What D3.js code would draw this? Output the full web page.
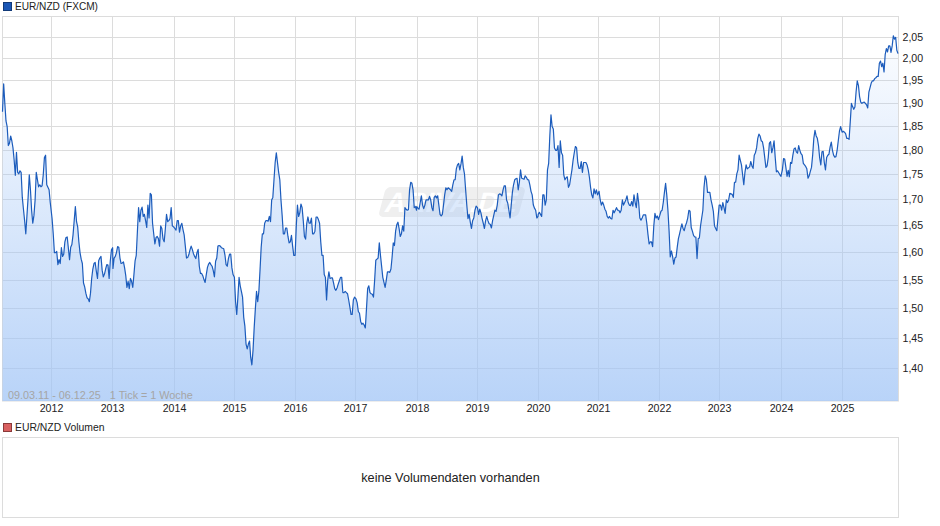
<!DOCTYPE html>
<html>
<head>
<meta charset="utf-8">
<script src="https://cdn.jsdelivr.net/npm/d3@7"></script>
<style>
  html, body { margin: 0; padding: 0; background: #fff; }
  svg { display: block; font-family: "Liberation Sans", Arial, sans-serif; }
  .axis text { fill: #222; font-size: 10.6px; }
  .axis line { stroke: #dcdcdc; }
</style>
</head>
<body>
<div id="graph"></div>
<script>
// weekly closes, one list per calendar year
var rates2011 = [1.882,1.943,1.90,1.862,1.85,1.81,1.815,1.83,1.82,1.805,1.78,1.749,1.796,1.755,1.752,1.758,1.755,1.705,1.682,1.66,1.635,1.67,1.705,1.75,1.72,1.68,1.655,1.67,1.70,1.755,1.74,1.726,1.73,1.726,1.728,1.75,1.785,1.79,1.73,1.725,1.72,1.695];
var rates2012 = [1.664,1.635,1.60,1.60,1.602,1.578,1.587,1.58,1.609,1.593,1.597,1.62,1.628,1.629,1.608,1.587,1.61,1.615,1.633,1.66,1.687,1.658,1.648,1.62,1.60,1.588,1.58,1.545,1.538,1.527,1.519,1.517,1.512,1.527,1.553,1.57,1.58,1.582,1.566,1.553,1.585,1.59,1.593,1.568,1.556,1.561,1.57,1.578,1.577,1.553,1.585,1.605,1.609];
var rates2013 = [1.571,1.59,1.593,1.60,1.611,1.61,1.59,1.58,1.581,1.583,1.572,1.558,1.537,1.548,1.535,1.553,1.548,1.537,1.56,1.585,1.595,1.64,1.685,1.658,1.68,1.686,1.668,1.672,1.66,1.647,1.69,1.665,1.713,1.71,1.655,1.635,1.616,1.628,1.63,1.626,1.612,1.65,1.645,1.625,1.62,1.645,1.672,1.658,1.66,1.664,1.685,1.65];
var rates2014 = [1.648,1.645,1.642,1.66,1.66,1.638,1.65,1.655,1.643,1.633,1.612,1.59,1.591,1.596,1.605,1.612,1.606,1.598,1.593,1.589,1.60,1.606,1.575,1.562,1.562,1.558,1.551,1.546,1.56,1.573,1.579,1.582,1.578,1.575,1.567,1.556,1.584,1.59,1.612,1.613,1.612,1.609,1.608,1.607,1.596,1.578,1.575,1.589,1.597,1.597,1.572,1.56];
var rates2015 = [1.555,1.512,1.49,1.52,1.555,1.54,1.53,1.52,1.485,1.47,1.44,1.432,1.44,1.445,1.418,1.406,1.43,1.468,1.50,1.53,1.512,1.53,1.568,1.61,1.635,1.635,1.655,1.66,1.66,1.659,1.668,1.658,1.70,1.705,1.74,1.775,1.795,1.775,1.755,1.74,1.70,1.67,1.635,1.635,1.646,1.646,1.63,1.618,1.62,1.632,1.612,1.595];
var rates2016 = [1.595,1.65,1.69,1.668,1.675,1.692,1.685,1.66,1.63,1.625,1.655,1.667,1.655,1.655,1.665,1.635,1.635,1.64,1.667,1.667,1.662,1.655,1.62,1.595,1.595,1.56,1.555,1.515,1.55,1.565,1.553,1.554,1.554,1.545,1.535,1.532,1.536,1.543,1.549,1.555,1.555,1.528,1.528,1.53,1.528,1.526,1.515,1.503,1.49,1.49,1.515,1.52];
var rates2017 = [1.517,1.51,1.495,1.492,1.478,1.473,1.475,1.472,1.467,1.50,1.535,1.54,1.528,1.526,1.525,1.52,1.55,1.586,1.588,1.59,1.618,1.595,1.575,1.555,1.546,1.537,1.55,1.565,1.565,1.564,1.57,1.592,1.618,1.613,1.64,1.652,1.657,1.645,1.63,1.635,1.65,1.64,1.685,1.682,1.68,1.681,1.72,1.735,1.733,1.72,1.685,1.687,1.68];
var rates2018 = [1.687,1.684,1.682,1.695,1.708,1.69,1.683,1.69,1.70,1.70,1.70,1.707,1.70,1.685,1.679,1.705,1.708,1.704,1.708,1.69,1.672,1.669,1.672,1.69,1.71,1.724,1.72,1.724,1.722,1.72,1.717,1.73,1.74,1.74,1.762,1.77,1.773,1.76,1.772,1.788,1.765,1.752,1.72,1.69,1.664,1.672,1.657,1.645,1.66,1.665,1.68,1.688];
var rates2019 = [1.685,1.672,1.682,1.675,1.664,1.655,1.645,1.66,1.668,1.66,1.654,1.653,1.646,1.66,1.67,1.68,1.678,1.69,1.71,1.712,1.711,1.708,1.72,1.728,1.728,1.70,1.694,1.68,1.665,1.69,1.715,1.73,1.74,1.742,1.743,1.72,1.735,1.76,1.743,1.742,1.741,1.748,1.745,1.74,1.74,1.73,1.717,1.71,1.69,1.684,1.68,1.665,1.668];
var rates2020 = [1.672,1.676,1.672,1.668,1.71,1.71,1.69,1.70,1.76,1.773,1.83,1.875,1.85,1.845,1.805,1.80,1.80,1.81,1.765,1.82,1.795,1.79,1.75,1.74,1.744,1.746,1.725,1.73,1.745,1.76,1.78,1.795,1.808,1.805,1.775,1.763,1.763,1.777,1.755,1.775,1.775,1.775,1.77,1.76,1.745,1.725,1.71,1.704,1.722,1.712,1.72,1.71];
var rates2021 = [1.717,1.70,1.69,1.696,1.69,1.682,1.678,1.668,1.665,1.668,1.664,1.663,1.68,1.675,1.68,1.685,1.68,1.68,1.675,1.68,1.70,1.69,1.695,1.70,1.708,1.695,1.69,1.689,1.697,1.688,1.71,1.695,1.685,1.713,1.695,1.665,1.661,1.665,1.671,1.671,1.671,1.655,1.634,1.616,1.62,1.62,1.611,1.65,1.674,1.665,1.669,1.662];
var rates2022 = [1.67,1.678,1.68,1.695,1.715,1.733,1.71,1.68,1.64,1.592,1.603,1.593,1.579,1.59,1.592,1.61,1.626,1.635,1.645,1.654,1.645,1.641,1.65,1.656,1.665,1.68,1.678,1.647,1.64,1.632,1.629,1.629,1.589,1.626,1.627,1.65,1.665,1.68,1.725,1.748,1.74,1.715,1.715,1.715,1.70,1.69,1.678,1.65,1.645,1.641,1.665,1.69];
var rates2023 = [1.69,1.68,1.695,1.685,1.674,1.70,1.695,1.70,1.713,1.712,1.711,1.705,1.735,1.735,1.752,1.76,1.79,1.78,1.77,1.75,1.73,1.755,1.77,1.762,1.764,1.766,1.777,1.768,1.763,1.79,1.795,1.805,1.825,1.834,1.83,1.82,1.818,1.805,1.785,1.765,1.768,1.785,1.815,1.818,1.795,1.805,1.82,1.785,1.756,1.758,1.754,1.75,1.747];
var rates2024 = [1.75,1.76,1.783,1.782,1.765,1.747,1.759,1.746,1.775,1.773,1.79,1.803,1.805,1.797,1.794,1.81,1.80,1.793,1.79,1.773,1.77,1.767,1.762,1.743,1.748,1.757,1.765,1.79,1.825,1.842,1.83,1.825,1.81,1.785,1.77,1.797,1.798,1.775,1.76,1.785,1.79,1.792,1.807,1.817,1.80,1.79,1.786,1.787,1.80,1.82,1.84,1.85];
var rates2025 = [1.838,1.84,1.838,1.835,1.825,1.825,1.823,1.86,1.90,1.893,1.887,1.892,1.925,1.95,1.94,1.915,1.903,1.90,1.902,1.903,1.90,1.897,1.89,1.925,1.935,1.945,1.95,1.95,1.955,1.957,1.96,1.96,1.99,1.995,1.982,1.99,1.97,2.01,2.024,2.016,2.03,2.03,2.015,2.03,2.054,2.046,2.05,2.02,2.012];

var yearRates = [rates2012, rates2013, rates2014, rates2015, rates2016, rates2017, rates2018, rates2019, rates2020, rates2021, rates2022, rates2023, rates2024, rates2025];
var yearLabels = [2012, 2013, 2014, 2015, 2016, 2017, 2018, 2019, 2020, 2021, 2022, 2023, 2024, 2025];
// the tick sits on the weekly bar nearest new year, not on 1 January
var yearTicks = ["2011-12-30", "2013-01-01", "2014-01-04", "2015-01-01", "2016-01-01", "2016-12-30", "2018-01-03", "2019-01-01", "2020-01-01", "2020-12-29", "2022-01-01", "2022-12-27", "2024-01-01", "2025-01-01"];
var rateTicks = [1.40, 1.45, 1.50, 1.55, 1.60, 1.65, 1.70, 1.75, 1.80, 1.85, 1.90, 1.95, 2.00, 2.05];

var width = 940, height = 526;
var plot = { left: 2.5, right: 898.5, top: 16.5, bottom: 401 };
var volumeBox = { top: 437.5, bottom: 517.5 };

var parseDay = d3.utcParse("%Y-%m-%d");
var firstDay = parseDay("2011-03-09");
var lastDay = parseDay("2025-12-06");
var tickDates = yearTicks.map(parseDay);

function weekly(start, values) {
  return values.map(function(v, i) {
    return { date: d3.utcDay.offset(start, i * 7), rate: v };
  });
}

var series = weekly(firstDay, rates2011);
yearRates.forEach(function(values, i) {
  series = series.concat(weekly(new Date(Date.UTC(yearLabels[i], 0, 1)), values));
});

var xScale = d3.scaleUtc().domain([firstDay, lastDay]).range([plot.left, plot.right]);
var yScale = d3.scaleLog().domain([1.3486, 2.1]).range([plot.bottom, plot.top]);

var svg = d3.select("#graph").append("svg").attr("width", width).attr("height", height);

var gradient = svg.append("defs").append("linearGradient")
  .attr("id", "areaFill")
  .attr("gradientUnits", "userSpaceOnUse")
  .attr("x1", 0).attr("x2", 0)
  .attr("y1", plot.top).attr("y2", plot.bottom);
gradient.append("stop").attr("offset", 0).attr("stop-color", "rgb(160,196,246)").attr("stop-opacity", 0);
gradient.append("stop").attr("offset", 1).attr("stop-color", "rgb(160,196,246)").attr("stop-opacity", 0.74);

// legend rows
function legendRow(y, color, border, label, size) {
  svg.append("rect").attr("x", 3.5).attr("y", y).attr("width", 8).attr("height", 8)
    .attr("fill", color).attr("stroke", border);
  svg.append("text").attr("x", 15).attr("y", y + 7.5).attr("font-size", size).attr("fill", "#222").text(label);
}
legendRow(2.5, "#1a56b5", "#123a78", "EUR/NZD (FXCM)", 10.1);
legendRow(423.5, "#d96060", "#8a3a3a", "EUR/NZD Volumen", 10.4);

// watermark sits under the area
svg.append("g").attr("transform", "translate(378,187) skewX(-15)")
  .call(function(g) {
    g.append("rect").attr("x", 8).attr("width", 140).attr("height", 30).attr("rx", 5).attr("fill", "#efefef");
    g.append("text").attr("x", 78).attr("y", 25).attr("text-anchor", "middle")
      .attr("font-size", 28).attr("font-weight", "bold").attr("fill", "#fff").text("ARIVA.DE");
  });

// grid + labels
var yAxis = d3.axisRight(yScale).tickValues(rateTicks).tickSize(-(plot.right - plot.left)).tickPadding(4)
  .tickFormat(function(d) { return d3.format(".2f")(d).replace(".", ","); });
var xAxis = d3.axisBottom(xScale).tickSize(-(plot.bottom - plot.top)).tickPadding(3)
  .tickValues(tickDates)
  .tickFormat(function(d, i) { return yearLabels[i]; });

var yGroup = svg.append("g").attr("class", "axis").attr("transform", "translate(" + plot.right + ",0)").call(yAxis);
var xGroup = svg.append("g").attr("class", "axis").attr("transform", "translate(0," + plot.bottom + ")").call(xAxis);
yGroup.select(".domain").remove();
xGroup.select(".domain").remove();
yGroup.selectAll(".tick").attr("transform", function(d) { return "translate(0," + (Math.floor(yScale(d)) + 0.5) + ")"; });
xGroup.selectAll(".tick").attr("transform", function(d) { return "translate(" + (Math.floor(xScale(d)) + 0.5) + ",0)"; });

svg.append("rect").attr("x", plot.left).attr("y", plot.top)
  .attr("width", plot.right - plot.left).attr("height", plot.bottom - plot.top)
  .attr("fill", "none").attr("stroke", "#dcdcdc");

var area = d3.area()
  .x(function(d) { return xScale(d.date); })
  .y0(plot.bottom)
  .y1(function(d) { return yScale(d.rate); });
var line = d3.line()
  .x(function(d) { return xScale(d.date); })
  .y(function(d) { return yScale(d.rate); });

svg.append("path").datum(series).attr("d", area).attr("fill", "url(#areaFill)");
svg.append("path").datum(series).attr("d", line)
  .attr("fill", "none").attr("stroke", "#1c5cbc").attr("stroke-width", 1.2).attr("stroke-linejoin", "round");

svg.append("text").attr("x", 8).attr("y", 399).attr("font-size", 10.8).attr("fill", "#a5a5a5")
  .attr("xml:space", "preserve").style("white-space", "pre")
  .text("09.03.11 - 06.12.25   1 Tick = 1 Woche");

// empty volume panel
svg.append("rect").attr("x", plot.left).attr("y", volumeBox.top)
  .attr("width", plot.right - plot.left).attr("height", volumeBox.bottom - volumeBox.top)
  .attr("fill", "#fff").attr("stroke", "#dcdcdc");
svg.append("text").attr("x", (plot.left + plot.right) / 2).attr("y", 482)
  .attr("text-anchor", "middle").attr("font-size", 12.7).attr("fill", "#222")
  .text("keine Volumendaten vorhanden");
</script>
</body>
</html>
